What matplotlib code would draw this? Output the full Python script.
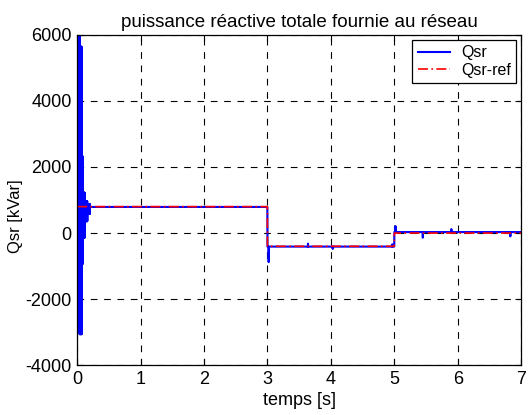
import numpy as np
import matplotlib
matplotlib.use("Agg")
import matplotlib.pyplot as plt

plt.rcParams['font.family'] = ['Liberation Sans', 'DejaVu Sans']
plt.rcParams['axes.unicode_minus'] = False

# Reference setpoint steps (time in s, kVar)
ref_step_times = [0.0, 3.0, 5.0]
ref_step_values = [800, -400, 0]

# Measured steady levels after each step
meas_step_times = [0.0, 3.0, 5.0]
meas_step_values = [790, -410, 30]

# Start-up oscillation: segment bounds and envelope (upper / lower extremes)
trans_times = [0.0, 0.04, 0.07, 0.085, 0.12, 0.16, 0.20]
trans_high = [6000, 5640, 2330, 1220, 970, 880]
trans_low = [-750, -3060, -940, -140, 360, 580]

# Short disturbances on the measurement (time, peak value)
spike_times = [3.02, 3.64, 4.03, 4.97, 5.02, 5.45, 5.90, 6.83]
spike_values = [-880, -320, -480, -340, 210, -140, 120, -100]

t_end = 7.0
dt = 0.0005
t = np.arange(0.0, t_end + dt, dt)

def steps(times, values):
    out = np.zeros_like(t)
    for ts, v in zip(times, values):
        out[t >= ts] = v
    return out

qsr_ref = steps(ref_step_times, ref_step_values)
qsr = steps(meas_step_times, meas_step_values)

for i in range(len(trans_high)):
    m = (t >= trans_times[i]) & (t < trans_times[i + 1])
    idx = np.where(m)[0]
    qsr[idx[0::2]] = trans_high[i]
    qsr[idx[1::2]] = trans_low[i]

for ts, v in zip(spike_times, spike_values):
    k = int(round(ts / dt))
    qsr[k] = v

fig = plt.figure(figsize=(5.28, 4.15), dpi=100)
ax = fig.add_axes([0.146, 0.120, 0.841, 0.796])

ax.plot(t, qsr, color='#0000ff', lw=1.5, label='Qsr')
ax.plot(t, qsr_ref, color='#ff0000', lw=1.2, ls=(0, (6, 2, 1, 2)), label='Qsr-ref')

ax.set_xlim(0, 7)
ax.set_ylim(-4000, 6000)
ax.set_xticks(range(0, 8))
ax.set_yticks(range(-4000, 6001, 2000))
ax.grid(True, color='black', ls=(0, (6, 6)), lw=0.8)
ax.tick_params(direction='in', top=True, right=True, labelsize=13, length=4,
               pad=4)
for s in ax.spines.values():
    s.set_linewidth(0.9)

ax.set_title('puissance réactive totale fournie au réseau', fontsize=13.5, pad=6)
ax.set_xlabel('temps [s]', fontsize=13, labelpad=3)
ax.set_ylabel('Qsr [kVar]', fontsize=12, labelpad=2)
ax.yaxis.set_label_coords(-0.122, 0.45)

leg = ax.legend(loc='upper right', fontsize=11.5, fancybox=False, framealpha=1,
                edgecolor='black', borderaxespad=0.3, handlelength=2.0,
                handletextpad=0.7, borderpad=0.35, labelspacing=0.15)
leg.get_frame().set_linewidth(0.9)

fig.savefig('out.png', dpi=100)
